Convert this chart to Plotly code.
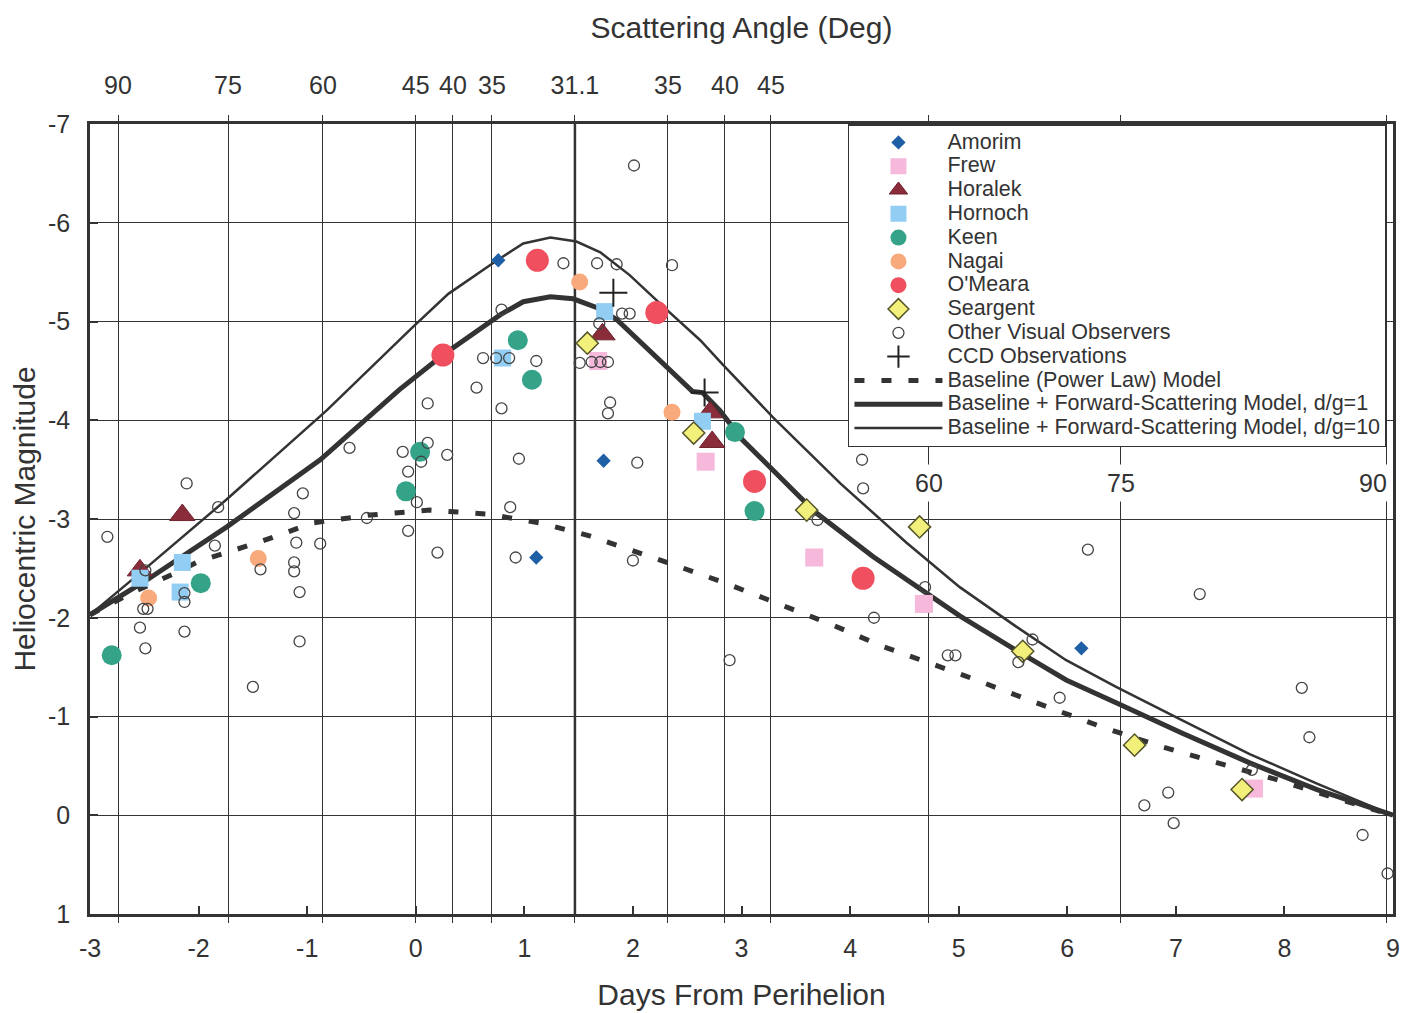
import plotly.graph_objects as go

# ---------------- data ----------------
amorim_day = [0.76, 1.73, 1.11, 6.13]
amorim_mag = [-5.62, -3.59, -2.61, -1.69]

frew_day = [1.68, 2.67, 3.67, 4.68, 7.72]
frew_mag = [-4.60, -3.58, -2.61, -2.14, -0.27]

horalek_day = [-2.54, -2.15, 1.72, 2.71, 2.73]
horalek_mag = [-2.48, -3.04, -4.87, -4.08, -3.78]

hornoch_day = [-2.54, -2.15, -2.17, 0.80, 1.74, 2.64]
hornoch_mag = [-2.40, -2.56, -2.26, -4.63, -5.10, -3.99]

keen_day = [-2.80, -1.98, -0.09, 0.04, 0.94, 1.07, 2.94, 3.12]
keen_mag = [-1.62, -2.35, -3.28, -3.68, -4.81, -4.41, -3.88, -3.08]

nagai_day = [-2.46, -1.45, 1.51, 2.36]
nagai_mag = [-2.20, -2.60, -5.40, -4.08]

omeara_day = [0.25, 1.12, 2.22, 3.12, 4.12]
omeara_mag = [-4.66, -5.62, -5.09, -3.38, -2.40]

seargent_day = [1.58, 2.56, 3.60, 4.64, 5.59, 6.62, 7.61]
seargent_mag = [-4.78, -3.87, -3.09, -2.92, -1.66, -0.71, -0.26]

ccd_day = [1.82, 2.66]
ccd_mag = [-5.29, -4.28]

other_day = [-2.84, -2.11, -1.82, -1.85, -2.49, -2.51, -2.47, -2.54, -2.49, -2.13,
             -2.13, -2.13, -1.50, -1.43, -1.04, -1.12, -1.10, -1.12, -1.12, -1.07,
             -1.07, -0.88, -0.61, -0.45, -0.12, 0.01, -0.07, -0.07, 0.05, 0.11,
             0.20, 0.29, 0.11, 0.56, 0.79, 0.79, 0.62, 0.74, 0.86, 1.11,
             0.95, 0.87, 0.92, 1.36, 1.67, 1.85, 2.36, 1.90, 1.97, 1.69,
             1.51, 1.62, 1.70, 1.77, 1.79, 1.77, 2.04, 2.00, 2.01, 4.11,
             4.12, 2.89, 3.70, 4.22, 4.69, 4.90, 4.97, 6.19, 7.22, 5.68,
             5.55, 5.93, 8.16, 8.23, 7.70, 6.93, 6.71, 6.98, 8.72, 8.95]
other_mag = [-2.82, -3.36, -3.12, -2.73, -2.48, -2.09, -2.09, -1.90, -1.69, -2.25,
             -2.16, -1.86, -1.30, -2.49, -3.26, -3.06, -2.76, -2.56, -2.47, -2.26,
             -1.76, -2.75, -3.72, -3.01, -3.68, -3.17, -2.88, -3.48, -3.58, -3.77,
             -2.66, -3.65, -4.17, -4.33, -4.12, -5.12, -4.63, -4.63, -4.63, -4.60,
             -3.61, -3.12, -2.61, -5.59, -5.59, -5.58, -5.57, -5.08, -5.08, -4.98,
             -4.58, -4.59, -4.59, -4.59, -4.18, -4.07, -3.57, -2.58, -6.58, -3.60,
             -3.31, -1.57, -2.99, -2.00, -2.31, -1.62, -1.62, -2.69, -2.24, -1.78,
             -1.55, -1.19, -1.29, -0.79, -0.46, -0.23, -0.10, 0.08, 0.20, 0.59]

baseline_day = [-3.0, -2.6, -2.22, -2.0, -1.43, -0.95, -0.42, 0.13, 0.66, 1.14, 1.60,
                2.06, 2.34, 2.83, 3.33, 3.81, 4.30, 4.83, 5.04, 5.81, 6.33, 6.88,
                7.38, 7.93, 8.45, 9.0]
baseline_mag = [-2.03, -2.26, -2.45, -2.57, -2.77, -2.96, -3.04, -3.09, -3.05, -2.96, -2.83,
                -2.66, -2.55, -2.36, -2.15, -1.94, -1.71, -1.50, -1.42, -1.10, -0.89, -0.69,
                -0.53, -0.36, -0.18, 0.0]

fs1_day = [-3.0, -2.48, -1.74, -0.88, -0.15, 0.25, 0.78, 0.99, 1.24, 1.45, 1.67, 1.85,
           2.55, 2.64, 2.80, 3.01, 3.54, 3.69, 4.21, 4.76, 5.01, 5.53, 5.99, 6.45,
           7.06, 7.68, 8.30, 9.0]
fs1_mag = [-2.03, -2.38, -2.92, -3.60, -4.31, -4.66, -5.07, -5.20, -5.25, -5.23, -5.14, -5.02,
           -4.29, -4.28, -4.10, -3.80, -3.22, -3.06, -2.62, -2.20, -2.02, -1.67, -1.37, -1.14,
           -0.83, -0.53, -0.26, 0.0]

fs10_day = [-3.0, -2.51, -1.74, -0.82, -0.03, 0.30, 0.75, 0.99, 1.24, 1.48, 1.70, 1.97,
            2.31, 2.62, 2.83, 3.29, 3.91, 4.52, 5.01, 5.53, 5.99, 6.45, 7.06, 7.68, 8.30, 9.0]
fs10_mag = [-2.03, -2.48, -3.20, -4.10, -4.94, -5.28, -5.62, -5.79, -5.85, -5.81, -5.70, -5.47,
            -5.12, -4.81, -4.56, -4.03, -3.36, -2.76, -2.31, -1.91, -1.57, -1.30, -0.96, -0.62,
            -0.32, 0.0]

# scattering-angle scale (day positions of the angle grid lines)
angle_days = [-2.742, -1.729, -0.855, 0.0, 0.343, 0.702, 1.466, 2.322, 2.847, 3.271, 4.726, 6.494, 8.943]
angle_labels = ["90", "75", "60", "45", "40", "35", "31.1", "35", "40", "45", "60", "75", "90"]
angle_top = [True] * 10 + [False] * 3

day_ticks = list(range(-3, 10))
day_labels = [str(v) for v in day_ticks]
mag_ticks = list(range(-7, 2))
mag_labels = [str(v) for v in mag_ticks]

# ---------------- styling ----------------
FONT = "Liberation Sans, Arial, sans-serif"
INK = "#333333"
LEG = '<span style="font-size:21.5px">%s</span>'

fig = go.Figure()

# model curves (drawn first so markers sit on top)
fig.add_trace(go.Scatter(x=baseline_day, y=baseline_mag, mode="lines",
                         name=LEG % "Baseline (Power Law) Model", legendrank=11,
                         line=dict(color=INK, width=5, dash="10px,17px")))
fig.add_trace(go.Scatter(x=fs1_day, y=fs1_mag, mode="lines",
                         name=LEG % "Baseline + Forward-Scattering Model, d/g=1", legendrank=12,
                         line=dict(color=INK, width=5)))
fig.add_trace(go.Scatter(x=fs10_day, y=fs10_mag, mode="lines",
                         name=LEG % "Baseline + Forward-Scattering Model, d/g=10", legendrank=13,
                         line=dict(color=INK, width=2.5)))

def obs(xs, ys, name, rank, symbol, size, color, lcolor=None, lwidth=0):
    fig.add_trace(go.Scatter(
        x=xs, y=ys, mode="markers", name=LEG % name, legendrank=rank,
        marker=dict(symbol=symbol, size=size, color=color,
                    line=dict(color=lcolor or color, width=lwidth))))

obs(amorim_day, amorim_mag, "Amorim", 1, "diamond", 11, "#1f5fa6")
obs(frew_day, frew_mag, "Frew", 2, "square", 18, "#f6b9dc")
obs(horalek_day, horalek_mag, "Horalek", 3, "triangle-up", 22, "#8a2c3a", "#6e2230", 1)
obs(hornoch_day, hornoch_mag, "Hornoch", 4, "square", 17, "#92cdf4")
obs(keen_day, keen_mag, "Keen", 5, "circle", 20, "#34a388")
obs(nagai_day, nagai_mag, "Nagai", 6, "circle", 17, "#f8aa7c")
obs(omeara_day, omeara_mag, "O'Meara", 7, "circle", 23, "#ef4f5e")
obs(seargent_day, seargent_mag, "Seargent", 8, "diamond", 17, "#f2f07a", "#55552a", 1.5)
obs(other_day, other_mag, "Other Visual Observers", 9, "circle-open", 11, "#444444", "#444444", 1.3)
obs(ccd_day, ccd_mag, "CCD Observations", 10, "cross-thin", 20, "#222222", "#222222", 2)

# invisible trace bound to the top (scattering-angle) axis
fig.add_trace(go.Scatter(x=[angle_days[0], angle_days[-1]], y=[0, 0], xaxis="x2",
                         mode="markers", marker=dict(opacity=0), showlegend=False,
                         hoverinfo="skip"))

# heavy line at the minimum scattering angle
fig.add_shape(type="line", xref="x", yref="paper", x0=angle_days[6], x1=angle_days[6],
              y0=0, y1=1, line=dict(color=INK, width=2.5), layer="below")

# angle labels that sit inside the plot on the right
for d, lab, top in zip(angle_days, angle_labels, angle_top):
    if not top:
        shift = -14 if d > 8.5 else 0
        fig.add_annotation(x=d, y=-3.36, xref="x", yref="y", text=lab, showarrow=False,
                           xshift=shift, bgcolor="white", borderpad=4,
                           font=dict(family=FONT, size=25, color=INK))

fig.update_layout(
    width=1403, height=1013, autosize=False,
    margin=dict(l=90, r=10, t=124, b=99),
    paper_bgcolor="white", plot_bgcolor="white",
    font=dict(family=FONT, color=INK),
    showlegend=True,
    legend=dict(x=0.5817, y=1, xanchor="left", yanchor="top",
                bgcolor="white", bordercolor=INK, borderwidth=1.5,
                font=dict(family=FONT, size=16, color=INK),
                itemwidth=88, itemsizing="trace", traceorder="normal"),
    xaxis=dict(range=[-3, 9], tickmode="array", tickvals=day_ticks, ticktext=day_labels,
               ticks="inside", ticklen=8, tickwidth=2, tickcolor=INK,
               tickfont=dict(family=FONT, size=25, color=INK), ticklabelstandoff=10,
               showgrid=False, zeroline=False, showline=True, linecolor=INK, linewidth=2.5,
               mirror=True, automargin=False,
               minor=dict(tickmode="array", tickvals=angle_days, ticks="outside", ticklen=6,
                          tickcolor=INK, tickwidth=1, showgrid=False),
               title=dict(text="Days From Perihelion", standoff=24,
                          font=dict(family=FONT, size=30, color=INK))),
    xaxis2=dict(range=[-3, 9], overlaying="x", side="top", anchor="y",
                tickmode="array", tickvals=angle_days,
                ticktext=[l if t else "" for l, t in zip(angle_labels, angle_top)],
                ticks="outside", ticklen=6, tickcolor=INK,
                tickfont=dict(family=FONT, size=25, color=INK), ticklabelstandoff=11,
                showgrid=True, gridcolor=INK, gridwidth=1, zeroline=False,
                showline=True, linecolor=INK, linewidth=3, automargin=False,
                title=dict(text="Scattering Angle (Deg)", standoff=24,
                           font=dict(family=FONT, size=30, color=INK))),
    yaxis=dict(range=[1, -7], tickmode="array", tickvals=mag_ticks, ticktext=mag_labels,
               ticks="inside", ticklen=8, tickwidth=2, tickcolor=INK,
               tickfont=dict(family=FONT, size=25, color=INK), ticklabelstandoff=12,
               showgrid=True, gridcolor=INK, gridwidth=1, zeroline=False,
               showline=True, linecolor=INK, linewidth=2.5, mirror=True, automargin=False,
               title=dict(text="Heliocentric Magnitude", standoff=4,
                          font=dict(family=FONT, size=30, color=INK))),
)

fig.write_html("out.html", config={"displayModeBar": False},
               post_script="document.body.style.margin='0px';")
